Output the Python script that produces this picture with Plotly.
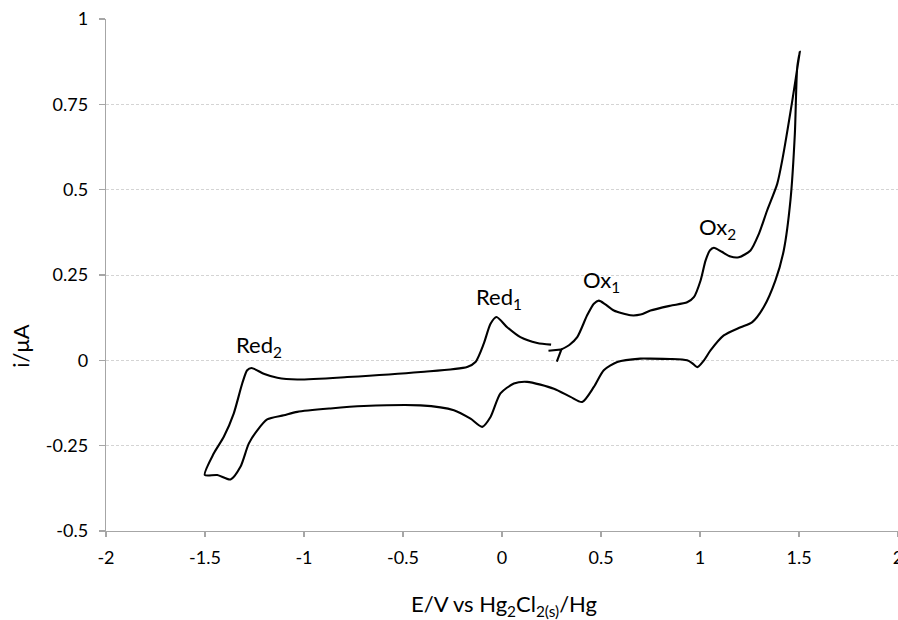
import math
import plotly.graph_objects as go

# Cyclic voltammogram, traced in scan order (starting at the arrow, going anodic)
E_fwd = [0.30, 0.34, 0.38, 0.43, 0.464, 0.489, 0.52, 0.565, 0.649, 0.70, 0.75, 0.85,
         0.935, 0.969, 1.003, 1.028, 1.05, 1.07, 1.11, 1.154, 1.196, 1.255, 1.297,
         1.339, 1.39, 1.415, 1.466, 1.504]
I_fwd = [0.032, 0.045, 0.068, 0.132, 0.166, 0.175, 0.165, 0.146, 0.132, 0.134, 0.146, 0.16,
         0.17, 0.185, 0.234, 0.292, 0.322, 0.33, 0.318, 0.304, 0.302, 0.322, 0.37,
         0.439, 0.517, 0.585, 0.76, 0.904]

E_rev = [1.491, 1.479, 1.457, 1.423, 1.381, 1.322, 1.264, 1.205, 1.12, 1.053, 1.02,
         0.986, 0.96, 0.935, 0.85, 0.75, 0.699, 0.582, 0.514, 0.464, 0.405, 0.346,
         0.262, 0.127, 0.06, -0.008, -0.058, -0.1, -0.159, -0.243, -0.412, -0.698,
         -0.866, -1.034, -1.102, -1.186, -1.236, -1.279, -1.321, -1.371, -1.438, -1.501]
I_rev = [0.858, 0.663, 0.47, 0.322, 0.234, 0.156, 0.112, 0.097, 0.073, 0.029, 0.0,
         -0.02, -0.008, 0.0, 0.004, 0.005, 0.005, -0.005, -0.029, -0.078, -0.122, -0.107,
         -0.083, -0.063, -0.068, -0.097, -0.166, -0.195, -0.171, -0.146, -0.132, -0.134,
         -0.141, -0.151, -0.161, -0.173, -0.205, -0.244, -0.312, -0.349, -0.336, -0.336]

E_ret = [-1.456, -1.405, -1.355, -1.312, -1.287, -1.265, -1.2, -1.135, -1.034, -0.782,
         -0.41, -0.176, -0.134, -0.092, -0.058, -0.028, 0.026, 0.093, 0.178, 0.248]
I_ret = [-0.273, -0.224, -0.156, -0.068, -0.029, -0.0225, -0.04, -0.051, -0.056, -0.049,
         -0.034, -0.0195, -0.005, 0.049, 0.107, 0.127, 0.097, 0.068, 0.051, 0.046]

# Peak labels
label_text = ["Red<sub>2</sub>", "Red<sub>1</sub>", "Ox<sub>1</sub>", "Ox<sub>2</sub>"]
label_x = [-1.225, -0.013, 0.505, 1.086]
label_y = [0.041, 0.184, 0.231, 0.389]

x_ticks = [-2, -1.5, -1, -0.5, 0, 0.5, 1, 1.5, 2]
x_ticktext = ["-2", "-1.5", "-1", "-0.5", "0", "0.5", "1", "1.5", "2"]
y_ticks = [-0.5, -0.25, 0, 0.25, 0.5, 0.75, 1]
y_ticktext = ["-0.5", "-0.25", "0", "0.25", "0.5", "0.75", "1"]

X_RANGE = [-2, 2]
Y_RANGE = [-0.5, 1]
W, H = 898, 620
ML, MR, MT, MB = 106, 0, 19, 89

E = E_fwd + E_rev + E_ret
I = I_fwd + I_rev + I_ret

FONT = "Lato"
AXC = "#a6a6a6"

fig = go.Figure()
fig.add_trace(go.Scatter(x=E, y=I, mode="lines",
                         line=dict(color="black", width=2.1, shape="spline", smoothing=0.7),
                         showlegend=False, hoverinfo="skip"))

# open arrowhead at the start of the forward sweep, oriented along the scan direction
sx = (W - ML - MR) / (X_RANGE[1] - X_RANGE[0])
sy = (H - MT - MB) / (Y_RANGE[1] - Y_RANGE[0])
ang = math.atan2((I_fwd[2] - I_fwd[0]) * sy, (E_fwd[2] - E_fwd[0]) * sx)
wing_len = 13.0
wx, wy = [], []
for d in (+0.55, None, -0.55):
    if d is None:
        wx.append(E_fwd[0]); wy.append(I_fwd[0])
    else:
        a = ang + math.pi + d
        wx.append(E_fwd[0] + wing_len * math.cos(a) / sx)
        wy.append(I_fwd[0] + wing_len * math.sin(a) / sy)
fig.add_trace(go.Scatter(x=wx, y=wy, mode="lines",
                         line=dict(color="black", width=2.1),
                         showlegend=False, hoverinfo="skip"))

annotations = []
for t, xx, yy in zip(label_text, label_x, label_y):
    annotations.append(dict(x=xx, y=yy, xref="x", yref="y", text=t, showarrow=False,
                            font=dict(family=FONT, size=22, color="black"),
                            xanchor="center", yanchor="middle"))

annotations.append(dict(x=0.5025, y=-0.145, xref="paper", yref="paper",
                        text="E/V vs Hg<sub>2</sub>Cl<sub>2(s)</sub>/Hg", showarrow=False,
                        font=dict(family=FONT, size=22, color="black"),
                        xanchor="center", yanchor="middle"))
annotations.append(dict(x=-0.1073, y=0.36, xref="paper", yref="paper",
                        text="i/μA", showarrow=False, textangle=-90,
                        font=dict(family=FONT, size=22, color="black"),
                        xanchor="center", yanchor="middle"))

fig.update_layout(
    width=W, height=H,
    margin=dict(l=ML, r=MR, t=MT, b=MB),
    paper_bgcolor="white", plot_bgcolor="white",
    font=dict(family=FONT, size=18, color="black"),
    annotations=annotations,
    xaxis=dict(range=X_RANGE, tickvals=x_ticks, ticktext=x_ticktext,
               showgrid=False, zeroline=False, showline=True, linecolor=AXC, linewidth=1.3,
               ticks="outside", ticklen=5, tickcolor=AXC, tickwidth=1.3,
               tickfont=dict(family=FONT, size=18, color="black"),
               ticklabelstandoff=5, ticklabeloverflow="allow", automargin=False),
    yaxis=dict(range=Y_RANGE, tickvals=y_ticks, ticktext=y_ticktext,
               showgrid=True, gridcolor="#d4d4d4", griddash="3px,2px", gridwidth=1,
               zeroline=False, showline=True, linecolor=AXC, linewidth=1.3,
               ticks="outside", ticklen=6, tickcolor=AXC, tickwidth=1.3,
               tickfont=dict(family=FONT, size=18, color="black"),
               ticklabelstandoff=7, automargin=False),
)

fig.write_html("out.html",
               config={"displayModeBar": False, "staticPlot": True},
               post_script="document.body.style.margin='0';document.body.style.overflow='hidden';")
